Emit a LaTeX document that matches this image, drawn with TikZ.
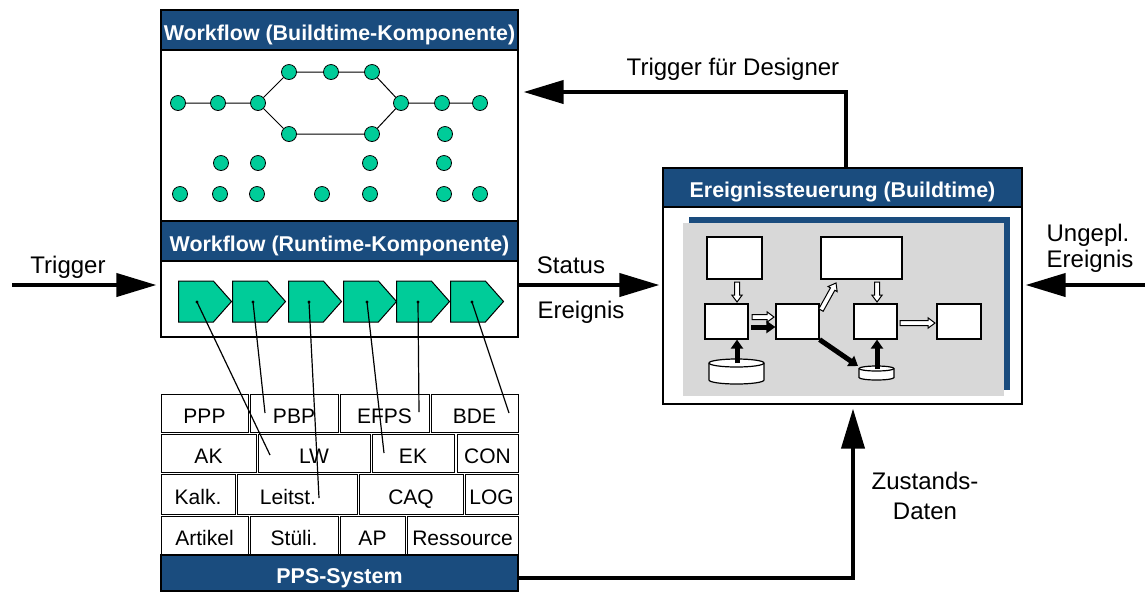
\documentclass[tikz,border=0pt]{standalone}
\usepackage{fontspec}
\setmainfont{Liberation Sans}
\usetikzlibrary{arrows.meta,fit,shapes.symbols,calc}
\definecolor{hdr}{HTML}{1A4C7E}
\definecolor{grn}{HTML}{00CC99}
\definecolor{gry}{HTML}{D8D8D8}
\newcommand\bx[7]{\node[#6, fit={(#2,#3)(#4,#5)}, inner sep=0pt] (#1) {};
  \node[#6, draw=none, fill=none, inner sep=0pt, anchor=base, yshift=-5pt] (#1t) at (#1.center) {#7};}
% hollow block arrow: x, y, angle, half length (pt)
\newcommand\harrow[4]{\begin{scope}[shift={(#1,#2)}, rotate=#3]
  \draw[fill=white, line width=0.5pt, line join=miter] (-#4pt,-1.25pt) -- (#4pt-3.5pt,-1.25pt) -- (#4pt-3.5pt,-2.6pt) -- (#4pt,0pt) -- (#4pt-3.5pt,2.6pt) -- (#4pt-3.5pt,1.25pt) -- (-#4pt,1.25pt) -- cycle;
  \end{scope}}
\begin{document}
\begin{tikzpicture}[x=0.5pt,y=-0.5pt,
  hd/.style={draw=black, fill=hdr, text=white, font=\fontsize{10.7}{12}\selectfont\bfseries, line width=0.6pt},
  wb/.style={draw=black, fill=white, line width=0.6pt},
  cellb/.style={draw=black, fill=white, line width=0.5pt, font=\fontsize{10.5}{12}\selectfont},
  gdot/.style={circle, draw=black, fill=grn, minimum size=7.5pt, inner sep=0pt, line width=0.4pt},
  chev/.style={signal, signal to=east, signal pointer angle=97, draw=black, fill=grn, minimum width=26.5pt, minimum height=20.5pt, inner sep=0pt, line width=0.5pt, anchor=west},
  big/.style={line width=2pt, -{Triangle[length=20pt,width=11.5pt]}},
  lbl/.style={font=\fontsize{12}{14}\selectfont, anchor=base, inner sep=0pt},
  gl/.style={line width=0.5pt},
  ibox/.style={draw=black, fill=white, line width=0.6pt},
  fa/.style={line width=2.5pt, -{Triangle[length=4.5pt,width=6pt]}},
  cl/.style={line width=0.6pt}
]
\useasboundingbox (0,0) rectangle (1145,591);

% ---------- left column ----------
\bx{bt}{161}{50}{518}{221}{wb}{}
\bx{bth}{161}{10}{518}{50}{hd}{Workflow (Buildtime-Komponente)}
\bx{rt}{161}{261}{518}{337}{wb}{}
\bx{rth}{161}{221}{518}{261}{hd}{Workflow (Runtime-Komponente)}

% graph nodes
\node[gdot] (a1) at (289,72) {};
\node[gdot] (a2) at (331,72) {};
\node[gdot] (a3) at (372,72) {};
\node[gdot] (b1) at (178,103) {};
\node[gdot] (b2) at (218,103) {};
\node[gdot] (b3) at (258,103) {};
\node[gdot] (b4) at (401,103) {};
\node[gdot] (b5) at (442,103) {};
\node[gdot] (b6) at (480,103) {};
\node[gdot] (c1) at (289,134) {};
\node[gdot] (c2) at (372,134) {};
\node[gdot] (c3) at (445,134) {};
\node[gdot] (d1) at (221,163) {};
\node[gdot] (d2) at (258,163) {};
\node[gdot] (d3) at (370,163) {};
\node[gdot] (d4) at (444,163) {};
\node[gdot] (e1) at (180,194) {};
\node[gdot] (e2) at (220,194) {};
\node[gdot] (e3) at (257,194) {};
\node[gdot] (e4) at (322,194) {};
\node[gdot] (e5) at (370,194) {};
\node[gdot] (e6) at (444,194) {};
\node[gdot] (e7) at (480,194) {};
\draw[gl] (b1) -- (b2) -- (b3) -- (a1) -- (a2) -- (a3) -- (b4) -- (b5) -- (b6);
\draw[gl] (b3) -- (c1) -- (c2) -- (b4);

% chevrons
\node[chev] (k1) at (178,301.5) {};
\node[chev] (k2) at (232,301.5) {};
\node[chev] (k3) at (288,301.5) {};
\node[chev] (k4) at (343,301.5) {};
\node[chev] (k5) at (396,301.5) {};
\node[chev] (k6) at (450,301.5) {};

% table
\bx{ppp}{161}{394}{248}{432}{cellb}{PPP}
\bx{pbp}{250}{394}{338}{432}{cellb}{PBP}
\bx{efps}{340}{394}{429}{432}{cellb}{EFPS}
\bx{bde}{431}{394}{518}{432}{cellb}{BDE}
\bx{ak}{161}{434}{256}{472}{cellb}{AK}
\bx{lw}{258}{434}{370}{472}{cellb}{LW}
\bx{ek}{372}{434}{454}{472}{cellb}{EK}
\bx{con}{457}{434}{518}{472}{cellb}{CON}
\bx{kalk}{161}{474}{235}{514}{cellb}{Kalk.}
\bx{leit}{237}{474}{357}{514}{cellb}{}
\node[font=\fontsize{10.5}{12}\selectfont, anchor=base, inner sep=0pt] (leitt) at (288,504) {Leitst.};
\bx{caq}{359}{474}{463}{514}{cellb}{CAQ}
\bx{log}{465}{474}{518}{514}{cellb}{LOG}
\bx{art}{161}{516}{248}{555}{cellb}{Artikel}
\bx{stl}{250}{516}{338}{555}{cellb}{Stüli.}
\bx{ap}{340}{516}{405}{555}{cellb}{AP}
\bx{res}{407}{516}{518}{555}{cellb}{Ressource}
\bx{pps}{161}{555}{518}{591}{hd}{PPS-System}

% mapping lines
\coordinate (s1) at (197,302); \coordinate (t1) at (270,455);
\coordinate (s2) at (253,302); \coordinate (t2) at (265,413);
\coordinate (s3) at (309,302); \coordinate (t3) at (319,498);
\coordinate (s4) at (367,302); \coordinate (t4) at (384,453);
\coordinate (s5) at (418,302); \coordinate (t5) at (419,412);
\coordinate (s6) at (472,302); \coordinate (t6) at (509,413);
\foreach \i in {1,...,6}{
  \draw[cl] (s\i) -- (t\i);
  \fill (s\i) circle[radius=0.8pt];
}

% ---------- right box ----------
\bx{ev}{663}{168}{1022}{404}{wb}{}
\bx{evh}{663}{168}{1022}{207}{hd}{Ereignissteuerung (Buildtime)}
\bx{shd}{689}{217}{1010}{390}{fill=hdr}{}
\bx{gr}{683}{223}{1004}{396}{fill=gry}{}

\bx{ib1}{707}{237}{762}{279}{ibox}{}
\bx{ib2}{821}{237}{902}{279}{ibox}{}
\bx{ib3}{705}{304}{748}{339}{ibox}{}
\bx{ib4}{776}{304}{819}{339}{ibox}{}
\bx{ib5}{854}{304}{897}{339}{ibox}{}
\bx{ib6}{937}{304}{981}{339}{ibox}{}

% cylinders
\filldraw[fill=white, line width=0.6pt] (709,363) -- (709,380) arc[start angle=180,end angle=360,x radius=13.75pt,y radius=2pt] -- (764,363) arc[start angle=0,end angle=180,x radius=13.75pt,y radius=2pt] -- cycle;
\draw[line width=0.6pt] (709,363) arc[start angle=180,end angle=360,x radius=13.75pt,y radius=2pt];
\coordinate (cy1) at (737,363);
\filldraw[fill=white, line width=0.6pt] (859,368.5) -- (859,377.5) arc[start angle=180,end angle=360,x radius=8.75pt,y radius=1.25pt] -- (894,368.5) arc[start angle=0,end angle=180,x radius=8.75pt,y radius=1.25pt] -- cycle;
\draw[line width=0.6pt] (859,368.5) arc[start angle=180,end angle=360,x radius=8.75pt,y radius=1.25pt];
\coordinate (cy2) at (877,369);

% hollow arrows
\harrow{737}{292}{-90}{5}
\harrow{763}{317}{0}{5.5}
\harrow{828.5}{296.5}{61}{7.75}
\harrow{877}{292}{-90}{5}
\harrow{917.5}{323}{0}{8.75}

% filled arrows
\coordinate (f1s) at (751,327);
\draw[fa] (f1s) -- (ib4.west |- f1s);
\draw[fa] (ib4.south east) -- (858,366) coordinate (f2e);
\draw[fa] (cy1) -- (ib3.south -| cy1);
\draw[fa] (cy2) -- (ib5.south -| cy2);

% ---------- big arrows ----------
\coordinate (trigS) at (12,285);
\draw[big, shorten >=2pt] (trigS) -- (trigS -| rt.west);
\draw[big, shorten >=1.5pt] (rt.east |- trigS) -- (ev.west |- trigS);
\coordinate (ungS) at (1145,285);
\draw[big, shorten >=1.5pt] (ungS) -- (ungS -| ev.east);
\coordinate (tdx) at (846,92);
\draw[big, shorten >=2.5pt, line join=miter] (ev.north -| tdx) |- (bt.east |- tdx);
\coordinate (zd) at (853,578);
\draw[big, shorten >=2pt, line join=miter] (pps.east |- zd) -| (ev.south -| zd);

% labels
\node[lbl] (lTrig) at (68,273) {Trigger};
\node[lbl] (lStat) at (571,273) {Status};
\node[lbl] (lEre) at (581,318) {Ereignis};
\node[lbl] (lTfd) at (733,75) {Trigger für Designer};
\node[lbl] (lUng) at (1088,241) {Ungepl.};
\node[lbl] (lUng2) at (1090,267) {Ereignis};
\node[lbl] (lZu) at (925,489) {Zustands-};
\node[lbl] (lDa) at (925,519) {Daten};
\end{tikzpicture}
\end{document}
